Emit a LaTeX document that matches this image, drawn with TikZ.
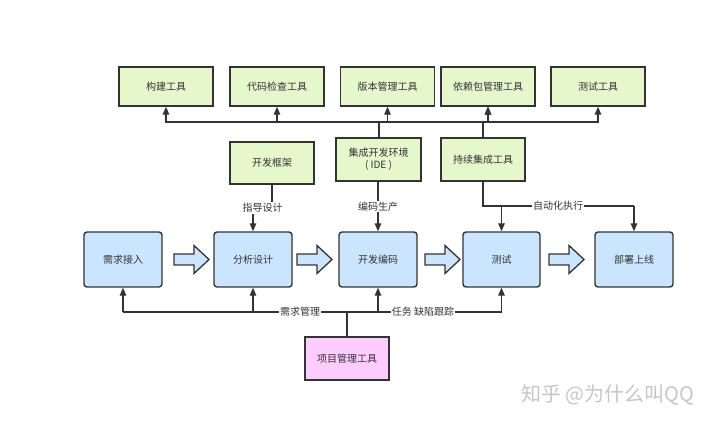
\documentclass[tikz,border=0pt]{standalone}
\usepackage{fontspec}
\setmainfont{Noto Sans CJK SC}
\usetikzlibrary{arrows.meta}
\definecolor{gfill}{HTML}{E6F7CC}
\definecolor{bfill}{HTML}{CCE5FF}
\definecolor{pfill}{HTML}{FFCCFF}
\definecolor{dk}{HTML}{333333}
\begin{document}
\begin{tikzpicture}[x=1pt,y=-1pt,
  box/.style={draw=dk, line width=1.4pt, inner sep=0pt, align=center, text=dk,
    font=\fontsize{10}{12}\selectfont},
  gbox/.style={box, fill=gfill, minimum width=84pt, minimum height=42pt},
  tbox/.style={box, fill=gfill, minimum width=94pt, minimum height=39pt},
  mbox/.style={box, fill=bfill, rounded corners=3pt, minimum width=78pt, minimum height=55pt},
  pbox/.style={box, fill=pfill, minimum width=84pt, minimum height=43pt},
  conn/.style={draw=dk, line width=1.3pt},
  arr/.style={conn, -{Triangle[length=8pt,width=6.5pt]}},
  lbl/.style={fill=white, inner sep=1pt, text=dk, font=\fontsize{10}{12}\selectfont},
  blkstyle/.style={draw=dk, line width=1.3pt, fill=bfill, line join=miter},
  blkarr/.pic={\draw[blkstyle] (0,-5.5) -- (20,-5.5) -- (20,-14) -- (35,0) -- (20,14) -- (20,5.5) -- (0,5.5) -- cycle;}
]
\useasboundingbox (0,0) rectangle (720,427);

% top row
\node[tbox] (t1) at (166,86.5) {构建工具};
\node[tbox] (t2) at (277,86.5) {代码检查工具};
\node[tbox] (t3) at (387.5,86.5) {版本管理工具};
\node[tbox] (t4) at (488,86.5) {依赖包管理工具};
\node[tbox] (t5) at (598,86.5) {测试工具};

% second row
\node[gbox] (fw) at (272,163) {开发框架};
\node[gbox, minimum height=43pt, minimum width=85pt] (ide) at (378.5,159.5) {集成开发环境\\( IDE )};
\node[gbox, minimum height=43pt] (ci) at (483,159.5) {持续集成工具};

% main row
\node[mbox] (m1) at (123,259.5) {需求接入};
\node[mbox] (m2) at (253,259.5) {分析设计};
\node[mbox] (m3) at (378,259.5) {开发编码};
\node[mbox, minimum width=77pt] (m4) at (501.5,259.5) {测试};
\node[mbox] (m5) at (634,259.5) {部署上线};

% bottom
\node[pbox] (pm) at (347,358.5) {项目管理工具};

% block arrows
\pic at (174,259.5) {blkarr};
\pic at (297,259.5) {blkarr};
\pic at (425,259.5) {blkarr};
\pic at (549,259.5) {blkarr};

% tool bus
\coordinate (busI) at (379,122);
\coordinate (busC) at (483,122);
\draw[conn] (ide.north -| busI) -- (busI);
\draw[arr] (busI) -| (t1.south);
\draw[arr] (busI) -| (t2.south);
\draw[arr] (busI) -| (t3.south);
\draw[arr] (busI) -| (t4.south);
\draw[conn] (ci.north) -- (busC);
\draw[arr] (busC) -| (t4.south);
\draw[arr] (busC) -| (t5.south);

% framework -> analysis
\coordinate (fwj) at (272,208);
\draw[arr] (fw.south) -- (fwj) -| (m2.north);
\node[lbl] (l1) at (262.5,208) {指导设计};

% IDE -> coding
\draw[arr] (ide.south -| m3.north) -- node[lbl, pos=0.5] (l2) {编码生产} (m3.north);

% CI -> test, deploy
\coordinate (cij) at (483,206);
\draw[conn] (ci.south) -- (cij) -- (m5.north |- cij);
\node[lbl] (l3) at (558,206) {自动化执行};
\draw[arr] (m4.north |- cij) -- (m4.north);
\draw[arr] (m5.north |- cij) -- (m5.north);

% project management bus
\coordinate (pmj) at (347,312);
\draw[conn] (pm.north) -- (pmj);
\draw[conn] (m1.south |- pmj) -- (m4.south |- pmj);
\draw[arr] (m1.south |- pmj) -- (m1.south);
\draw[arr] (m2.south |- pmj) -- (m2.south);
\draw[arr] (m3.south |- pmj) -- (m3.south);
\draw[arr] (m4.south |- pmj) -- (m4.south);
\node[lbl] (l4) at (300,312) {需求管理};
\node[lbl] (l5) at (423,312) {任务 缺陷跟踪};

% watermark
\node[text=gray!45, font=\fontsize{20}{24}\selectfont, inner sep=0pt] (wm) at (608,395) {知乎 @为什么叫QQ};
\end{tikzpicture}
\end{document}
